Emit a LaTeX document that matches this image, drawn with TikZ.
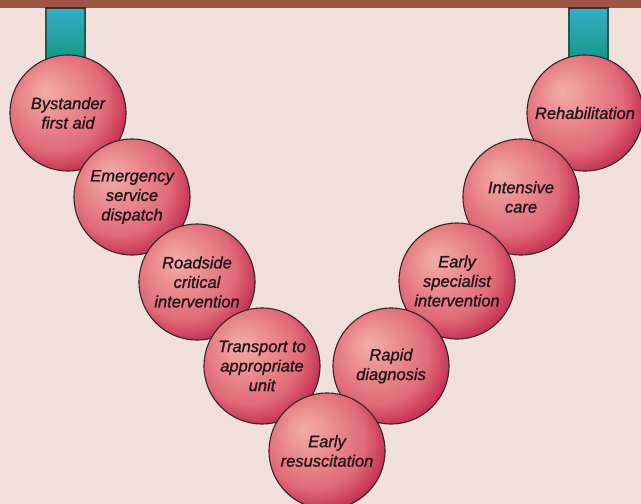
\documentclass[tikz,border=0pt]{standalone}
\usepackage{fontspec}
\newfontfamily\ballfont[FakeBold=1.2]{Liberation Sans}
\definecolor{bgc}{HTML}{F1DFD9}
\definecolor{barc}{HTML}{9E5443}
\definecolor{tealtop}{HTML}{38ACC4}
\definecolor{tealbot}{HTML}{12998A}
\definecolor{tealedge}{HTML}{1F5A4A}
\definecolor{ballhi}{HTML}{F2ACAA}
\definecolor{balllight}{HTML}{EC9294}
\definecolor{ballmid}{HTML}{E06A78}
\definecolor{balldark}{HTML}{BC1A44}
\definecolor{balldarker}{HTML}{9A0C34}
\definecolor{ballline}{HTML}{332628}
\definecolor{txt}{HTML}{24161A}
\pgfdeclareradialshading{redball}{\pgfpoint{-10bp}{10bp}}{%
  color(0bp)=(ballhi); color(9bp)=(balllight); color(22bp)=(ballmid);
  color(33bp)=(balldark); color(40bp)=(balldarker); color(50bp)=(balldarker)}
\tikzset{
  ball/.style={circle, minimum size=116pt, inner sep=0pt, draw=ballline, line width=1.1pt,
    shading=redball, align=center, text=txt,
    font=\ballfont\itshape\fontsize{16.5}{19.5}\selectfont},
  hanger/.style={draw=tealedge, line width=1.8pt, top color=tealtop, bottom color=tealbot,
    minimum width=39pt, minimum height=51pt, inner sep=0pt}
}
\begin{document}
\begin{tikzpicture}[x=1pt,y=-1pt]
\useasboundingbox (0,0) rectangle (641,504);
\fill[bgc] (0,0) rectangle (641,504);
\clip (0,0) rectangle (641,504);
\fill[barc] (0,0) rectangle (641,7.5);
\node[hanger] (h1) at (65.5,34) {};
\node[hanger] (h2) at (588.5,34) {};
\draw[black!80, line width=2pt] (h1.north west) -- (h1.north east);
\draw[black!80, line width=2pt] (h2.north west) -- (h2.north east);
\node[ball] (b1) at (68,113) {Bystander\\first aid};
\node[ball] (b9) at (585,113) {Rehabilitation};
\node[ball] (b2) at (132,197) {Emergency\\service\\dispatch};
\node[ball] (b8) at (521,197) {Intensive\\care};
\node[ball] (b3) at (197,282) {Roadside\\critical\\intervention};
\node[ball] (b7) at (457,281) {Early\\specialist\\intervention};
\node[ball] (b4) at (262,366) {Transport to\\appropriate\\unit};
\node[ball] (b6) at (391,366) {Rapid\\diagnosis};
\node[ball] (b5) at (327,451) {Early\\resuscitation};
\end{tikzpicture}
\end{document}
